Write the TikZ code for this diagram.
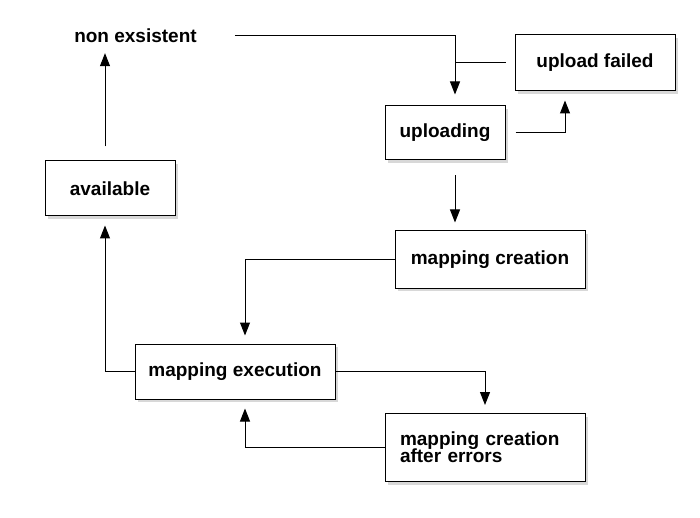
\documentclass[tikz,border=0pt]{standalone}
\usepackage{fontspec}
\setmainfont{Liberation Sans}
\usetikzlibrary{arrows.meta,shadows}
\begin{document}
\begin{tikzpicture}[x=1pt,y=-1pt,
  lbl/.style={font=\bfseries\fontsize{19}{22}\selectfont},
  state/.style={lbl,draw=black,line width=1pt,fill=white,
    drop shadow={shadow xshift=3pt,shadow yshift=-3pt,fill=black!30}},
  line/.style={draw=black,line width=1pt},
  arr/.style={line,-{Triangle[length=13pt,width=10pt]}}]
\useasboundingbox (0,0) rectangle (700,518);
\node[lbl,inner sep=0pt] (nonex) at (135.5,36) {non exsistent};
\node[state,minimum width=160pt,minimum height=56pt] (upfail) at (595,63) {upload failed};
\node[state,minimum width=120pt,minimum height=54pt] (uploading) at (445,133) {uploading};
\node[state,minimum width=130pt,minimum height=55pt] (available) at (110,188.5) {available};
\node[state,minimum width=190pt,minimum height=57pt] (mapcre) at (490,259.5) {mapping creation};
\node[state,minimum width=200pt,minimum height=68pt,text width=170pt,align=left,inner xsep=15pt] (after) at (485,447.5) {mapping creation\\[-5pt]after errors};
\node[state,minimum width=200pt,minimum height=55pt] (mapexe) at (235,371.5) {mapping execution};
\coordinate (upx) at ([xshift=10pt]uploading.north);
\coordinate (avx) at ([xshift=-5pt]available.north);
% connectors
\draw[arr,shorten <=38pt] (nonex.east) -| ([yshift=11pt]upx);
\draw[line] ([xshift=-9pt]upfail.west) -- (upfail.west -| upx);
\draw[arr] ([xshift=10pt]uploading.east) -| ([xshift=-30pt,yshift=-9pt]upfail.south);
\draw[arr] ([xshift=10pt,yshift=-15pt]uploading.south) -- ([yshift=8pt]mapcre.north -| upx);
\draw[arr] (mapcre.west) -| ([xshift=10pt,yshift=8pt]mapexe.north);
\draw[arr] (mapexe.west) -| ([xshift=-5pt,yshift=-9pt]available.south);
\draw[arr,shorten >=10pt] ([yshift=14pt]avx) -- (avx |- nonex.south);
\draw[arr] (mapexe.east) -| ([yshift=8pt]after.north);
\draw[arr] (after.west) -| ([xshift=10pt,yshift=-9pt]mapexe.south);
\end{tikzpicture}
\end{document}
